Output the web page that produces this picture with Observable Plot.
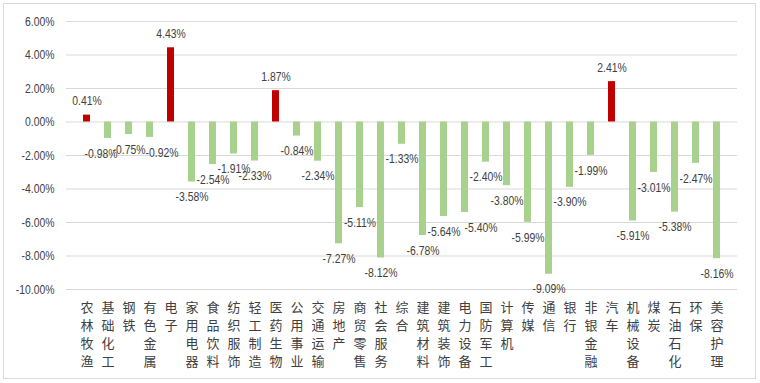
<!DOCTYPE html>
<html>
<head>
<meta charset="utf-8">
<script src="https://cdn.jsdelivr.net/npm/d3@7"></script>
<script src="https://cdn.jsdelivr.net/npm/@observablehq/plot@0.6"></script>
<style>
  html, body { margin: 0; padding: 0; background: #fff; }
  #wrap { position: relative; width: 760px; height: 383px; }
  #border { position: absolute; left: 3px; top: 3px; width: 751px; height: 374px; border: 1px solid #d9d9d9; pointer-events: none; }
</style>
</head>
<body>
<div id="wrap"><div id="border"></div></div>
<script>
const categories = ["农林牧渔","基础化工","钢铁","有色金属","电子","家用电器","食品饮料","纺织服饰","轻工制造","医药生物","公用事业","交通运输","房地产","商贸零售","社会服务","综合","建筑材料","建筑装饰","电力设备","国防军工","计算机","传媒","通信","银行","非银金融","汽车","机械设备","煤炭","石油石化","环保","美容护理"];
const values = [0.41,-0.98,-0.75,-0.92,4.43,-3.58,-2.54,-1.91,-2.33,1.87,-0.84,-2.34,-7.27,-5.11,-8.12,-1.33,-6.78,-5.64,-5.40,-2.40,-3.80,-5.99,-9.09,-3.90,-1.99,2.41,-5.91,-3.01,-5.38,-2.47,-8.16];
const yTicks = [6,4,2,0,-2,-4,-6,-8,-10];

const data = categories.map((c, i) => ({name: c, value: values[i]}));
const numFont = "'Liberation Sans','Arial',sans-serif";
// label nudges (as in the reference, to avoid collisions)
const nudge = {"基础化工": -7, "有色金属": 12, "电力设备": 16};
const fmt = d => d.value.toFixed(2) + "%";
const txt = {fill: "#404040", fontSize: 13, fontFamily: numFont, className: "narrow"};

const chart = Plot.plot({
  width: 760,
  height: 383,
  marginLeft: 66,
  marginRight: 23,
  marginTop: 21,
  marginBottom: 94,
  style: {fontFamily: numFont, background: "transparent"},
  x: {domain: categories, paddingInner: 0.68, paddingOuter: 0.34, label: null},
  y: {domain: [-10, 6], label: null},
  marks: [
    Plot.gridY(yTicks, {stroke: "#d9d9d9", strokeOpacity: 1, strokeWidth: 1}),
    Plot.barY(data, {x: "name", y: "value", fill: d => d.value >= 0 ? "#c00000" : "#a9d18e"}),
    Plot.text(data.filter(d => d.value >= 0), {x: "name", y: "value", text: fmt, dy: -14, ...txt}),
    Plot.text(data.filter(d => d.value < 0 && !(d.name in nudge)), {x: "name", y: "value", text: fmt, dy: 15, ...txt}),
    ...Object.entries(nudge).map(([k, dx]) =>
      Plot.text(data.filter(d => d.name === k), {x: "name", y: "value", text: fmt, dy: 15, dx, ...txt})),
    Plot.axisY(yTicks, {tickSize: 0, tickPadding: 12, tickFormat: d => d.toFixed(2) + "%", ...txt}),
    Plot.axisX({tickSize: 0, tickPadding: 10, tickFormat: d => Array.from(d).join("\n"), lineHeight: 1.38, fontSize: 13, fill: "#404040", fontFamily: "'Noto Sans CJK SC',sans-serif", lineAnchor: "top"})
  ]
});
document.getElementById("wrap").appendChild(chart);
// condensed look (like Arial Narrow) for numeric texts
d3.select(chart).selectAll(".narrow text").each(function() {
  const w = this.getComputedTextLength();
  this.setAttribute("textLength", (w * 0.8).toFixed(1));
  this.setAttribute("lengthAdjust", "spacingAndGlyphs");
});
</script>
</body>
</html>
